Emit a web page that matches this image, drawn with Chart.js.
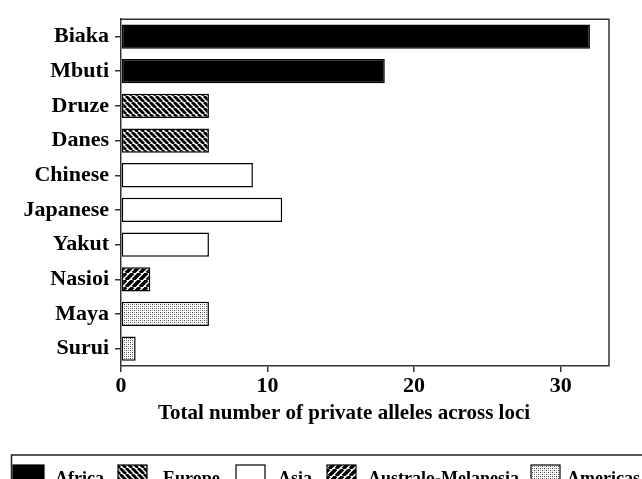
<!DOCTYPE html>
<html>
<head>
<meta charset="utf-8">
<script src="https://cdn.jsdelivr.net/npm/chart.js@4/dist/chart.umd.min.js"></script>
<style>
  html, body { margin: 0; padding: 0; background: #fff; }
  #wrap { width: 642px; height: 479px; position: relative; }
</style>
</head>
<body>
<div id="wrap"><canvas id="c"></canvas></div>
<script>
// Populations, their private-allele totals and the region each belongs to
const populations = ['Biaka', 'Mbuti', 'Druze', 'Danes', 'Chinese', 'Japanese', 'Yakut', 'Nasioi', 'Maya', 'Surui'];
const privateAlleles = [32, 18, 6, 6, 9, 11, 6, 2, 6, 1];
const populationRegion = [0, 0, 1, 1, 2, 2, 2, 3, 4, 4];
const regions = ['Africa', 'Europe', 'Asia', 'Australo-Melanesia', 'Americas'];
const xTicks = [0, 10, 20, 30];
const xTitle = 'Total number of private alleles across loci';

const SERIF = "'Liberation Serif', 'Times New Roman', serif";

// Fill patterns, one per region
function hatch(dir, spacing, lw) {
  const c = document.createElement('canvas');
  c.width = spacing; c.height = spacing;
  const g = c.getContext('2d');
  g.fillStyle = '#fff'; g.fillRect(0, 0, spacing, spacing);
  g.strokeStyle = '#000'; g.lineWidth = lw;
  g.beginPath();
  for (let k = -1; k <= 1; k++) {
    const o = k * spacing;
    if (dir === 'back') { g.moveTo(o, 0); g.lineTo(o + spacing, spacing); }
    else { g.moveTo(o, spacing); g.lineTo(o + spacing, 0); }
  }
  g.stroke();
  return g.createPattern(c, 'repeat');
}
function stipple() {
  const c = document.createElement('canvas');
  c.width = 4; c.height = 4;
  const g = c.getContext('2d');
  g.fillStyle = '#fff'; g.fillRect(0, 0, 4, 4);
  g.fillStyle = '#444';
  g.fillRect(0, 0, 1, 1); g.fillRect(2, 2, 1, 1);
  g.fillStyle = '#999';
  g.fillRect(2, 0, 1, 1); g.fillRect(0, 2, 1, 1);
  return g.createPattern(c, 'repeat');
}
const regionFills = [
  '#000',
  hatch('back', 6, 2.9),
  '#fff',
  hatch('fwd', 7, 3.6),
  stipple()
];

// Box around the plot area, the axis title and the region key at the bottom
const framePlugin = {
  id: 'frameAndKey',
  afterDraw(chart) {
    const ctx = chart.ctx;
    const a = chart.chartArea;
    ctx.save();
    ctx.strokeStyle = '#333';
    ctx.lineWidth = 1.5;
    ctx.beginPath();
    ctx.moveTo(a.left, a.top); ctx.lineTo(a.right, a.top); ctx.lineTo(a.right, a.bottom);
    ctx.stroke();

    // axis title
    ctx.fillStyle = '#000';
    ctx.font = 'bold 21px ' + SERIF;
    ctx.textAlign = 'center';
    ctx.textBaseline = 'middle';
    ctx.fillText(xTitle, 344, 414);

    // key box
    const boxTop = 455;
    ctx.strokeStyle = '#222';
    ctx.lineWidth = 1.5;
    ctx.strokeRect(11.5, boxTop, 640, 60);

    const swatchX = [13, 118, 236, 327, 531];
    const textX = [55, 163, 278, 368, 567];
    ctx.font = 'bold 18px ' + SERIF;
    ctx.textBaseline = 'alphabetic';
    ctx.textAlign = 'left';
    regions.forEach((name, i) => {
      const w = i === 0 ? 31 : 29;
      ctx.fillStyle = regionFills[i];
      ctx.fillRect(swatchX[i], 465, w, 30);
      ctx.strokeStyle = '#000';
      ctx.lineWidth = 1.2;
      ctx.strokeRect(swatchX[i], 465, w, 30);
      ctx.fillStyle = '#000';
      ctx.fillText(name, textX[i], 484);
    });
    ctx.restore();
  }
};

new Chart(document.getElementById('c'), {
  type: 'bar',
  data: {
    labels: populations,
    datasets: [{
      data: privateAlleles,
      backgroundColor: populationRegion.map(r => regionFills[r]),
      borderColor: '#000',
      borderWidth: 1.5,
      borderSkipped: false,
      barPercentage: 0.7,
      categoryPercentage: 1.0
    }]
  },
  options: {
    indexAxis: 'y',
    responsive: true,
    maintainAspectRatio: false,
    animation: false,
    devicePixelRatio: 1,
    layout: { padding: { top: 16, right: 33, bottom: 0, left: 0 } },
    plugins: { legend: { display: false }, tooltip: { enabled: false } },
    scales: {
      x: {
        min: 0,
        max: 33.3,
        afterFit(scale) { scale.height = 113; },
        afterBuildTicks(scale) { scale.ticks = xTicks.map(v => ({ value: v })); },
        ticks: {
          color: '#000',
          padding: 1,
          font: { family: SERIF, size: 22, weight: 'bold' }
        },
        grid: { drawOnChartArea: false, tickLength: 6, color: '#333', lineWidth: 1.5 },
        border: { color: '#333', width: 1.5 },
        title: { display: false }
      },
      y: {
        afterFit(scale) { scale.width = 121; },
        ticks: {
          color: '#000',
          padding: 6,
          font: { family: SERIF, size: 22, weight: 'bold' }
        },
        grid: { drawOnChartArea: false, offset: false, tickLength: 6, color: '#333', lineWidth: 1.5 },
        border: { color: '#333', width: 1.5 }
      }
    }
  },
  plugins: [framePlugin]
});
</script>
</body>
</html>
